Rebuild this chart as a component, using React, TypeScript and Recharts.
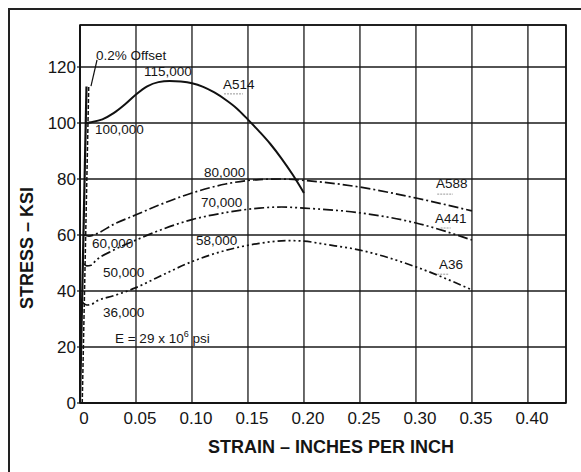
import React from "react";
import {
  LineChart,
  Line,
  XAxis,
  YAxis,
  CartesianGrid,
  ReferenceArea,
  ReferenceDot,
  ReferenceLine,
} from "recharts";

const xTicks = [0, 0.05, 0.1, 0.15, 0.2, 0.25, 0.3, 0.35, 0.4];
const yTicks = [0, 20, 40, 60, 80, 100, 120];

const elastic = [
  { x: 0, y: 0 },
  { x: 0.0058, y: 113 },
];
const offsetLine = [
  { x: 0.002, y: 0 },
  { x: 0.0078, y: 113 },
];

const a514 = [
  { x: 0.0052, y: 100 },
  { x: 0.01, y: 100.3 },
  { x: 0.02, y: 101.3 },
  { x: 0.03, y: 103.5 },
  { x: 0.04, y: 106.6 },
  { x: 0.05, y: 110.2 },
  { x: 0.06, y: 113.1 },
  { x: 0.07, y: 114.6 },
  { x: 0.08, y: 115 },
  { x: 0.09, y: 114.8 },
  { x: 0.1, y: 114.2 },
  { x: 0.11, y: 112.9 },
  { x: 0.12, y: 110.9 },
  { x: 0.13, y: 108.3 },
  { x: 0.14, y: 105.2 },
  { x: 0.15, y: 101.2 },
  { x: 0.16, y: 97 },
  { x: 0.17, y: 92.5 },
  { x: 0.18, y: 87.3 },
  { x: 0.19, y: 81.5 },
  { x: 0.2, y: 75 },
];

const a588 = [
  { x: 0.0031, y: 60 },
  { x: 0.008, y: 59.6 },
  { x: 0.015, y: 60.5 },
  { x: 0.03, y: 63.8 },
  { x: 0.05, y: 67.2 },
  { x: 0.07, y: 70.6 },
  { x: 0.1, y: 75 },
  { x: 0.13, y: 78.2 },
  { x: 0.16, y: 79.8 },
  { x: 0.18, y: 80 },
  { x: 0.2, y: 79.5 },
  { x: 0.25, y: 77.1 },
  { x: 0.3, y: 73.2 },
  { x: 0.35, y: 68.6 },
];

const a441 = [
  { x: 0.0026, y: 50 },
  { x: 0.006, y: 49 },
  { x: 0.01, y: 49.2 },
  { x: 0.014, y: 50.8 },
  { x: 0.03, y: 54.6 },
  { x: 0.05, y: 58.2 },
  { x: 0.07, y: 61.5 },
  { x: 0.1, y: 65.5 },
  { x: 0.13, y: 68 },
  { x: 0.16, y: 69.6 },
  { x: 0.18, y: 70 },
  { x: 0.2, y: 69.6 },
  { x: 0.25, y: 67.9 },
  { x: 0.3, y: 64.3 },
  { x: 0.35, y: 58.2 },
];

const a36 = [
  { x: 0.0019, y: 36 },
  { x: 0.006, y: 35 },
  { x: 0.01, y: 35.2 },
  { x: 0.015, y: 36.4 },
  { x: 0.03, y: 38.3 },
  { x: 0.05, y: 41.2 },
  { x: 0.07, y: 45 },
  { x: 0.1, y: 50.5 },
  { x: 0.13, y: 54.5 },
  { x: 0.16, y: 57 },
  { x: 0.185, y: 58 },
  { x: 0.2, y: 57.8 },
  { x: 0.22, y: 56.6 },
  { x: 0.25, y: 54.6 },
  { x: 0.3, y: 48.6 },
  { x: 0.35, y: 40.4 },
];

const notes = [
  { x: 0.0143, y: 124.3, text: "0.2% Offset" },
  { x: 0.0571, y: 118.6, text: "115,000" },
  { x: 0.0134, y: 97.9, text: "100,000" },
  { x: 0.1277, y: 113.9, text: "A514" },
  { x: 0.1107, y: 82.5, text: "80,000" },
  { x: 0.108, y: 71.8, text: "70,000" },
  { x: 0.1036, y: 58.2, text: "58,000" },
  { x: 0.0107, y: 57.1, text: "60,000" },
  { x: 0.0205, y: 46.8, text: "50,000" },
  { x: 0.0205, y: 32.5, text: "36,000" },
  { x: 0.318, y: 78.6, text: "A588" },
  { x: 0.317, y: 66.1, text: "A441" },
  { x: 0.3205, y: 49.6, text: "A36" },
];

const underlines = [
  { x1: 0.1286, x2: 0.1455, y: 110.4 },
  { x1: 0.319, x2: 0.333, y: 74.6 },
  { x1: 0.322, x2: 0.331, y: 62.5 },
  { x1: 0.319, x2: 0.329, y: 46 },
];

const FONT = "'Liberation Sans', Arial, Helvetica, sans-serif";
const INK = "#151515";

const noteShape = (text: string) => (p: any) => (
  <text
    x={p.cx}
    y={p.cy}
    dy="0.35em"
    fontSize={13.5}
    fontFamily={FONT}
    fill={INK}
  >
    {text}
  </text>
);

const eShape = (p: any) => (
  <text x={p.cx} y={p.cy} dy="0.35em" fontSize={13.5} fontFamily={FONT} fill={INK}>
    E = 29 x 10
    <tspan fontSize={9} dy="-0.6em">6</tspan>
    <tspan dy="0.45em"> psi</tspan>
  </text>
);

export default function App() {
  return (
    <div
      style={{
        position: "fixed",
        left: 0,
        top: 0,
        width: 581,
        height: 472,
        overflow: "hidden",
        background: "#fff",
      }}
    >
      <div
        style={{
          position: "absolute",
          left: 8,
          top: 8,
          width: 700,
          height: 600,
          borderLeft: "2px solid #222",
          borderTop: "2px solid #222",
          boxSizing: "border-box",
        }}
      />
      <div style={{ position: "absolute", left: 0, top: 0 }}>
        <LineChart
          width={581}
          height={472}
          margin={{ top: 25, right: 15, left: 0, bottom: 0 }}
        >
          <CartesianGrid stroke="#1a1a1a" strokeWidth={1.3} />
          <XAxis
            type="number"
            dataKey="x"
            domain={[0, 0.434]}
            ticks={xTicks}
            allowDataOverflow
            height={69}
            tickLine={false}
            tickSize={0}
            tickMargin={9}
            axisLine={{ stroke: "#111", strokeWidth: 1.6 }}
            tick={{ fontSize: 17, fill: INK, fontFamily: FONT, dx: 4 }}
            tickFormatter={(v: number) => (v === 0 ? "0" : v.toFixed(2))}
          />
          <YAxis
            type="number"
            dataKey="y"
            domain={[0, 135]}
            ticks={yTicks}
            allowDataOverflow
            width={80}
            tickSize={3}
            tickMargin={1}
            tickLine={{ stroke: "#111", strokeWidth: 1.2 }}
            axisLine={{ stroke: "#111", strokeWidth: 1.6 }}
            tick={{ fontSize: 17, fill: INK, fontFamily: FONT }}
          />
          <ReferenceArea
            x1={0}
            x2={0.434}
            y1={0}
            y2={135}
            fill="none"
            stroke="#111"
            strokeWidth={1.6}
            ifOverflow="visible"
          />
          <Line
            data={elastic}
            dataKey="y"
            type="linear"
            stroke="#111"
            strokeWidth={2.2}
            dot={false}
            isAnimationActive={false}
          />
          <Line
            data={offsetLine}
            dataKey="y"
            type="linear"
            stroke="#111"
            strokeWidth={1.5}
            strokeDasharray="4 2"
            dot={false}
            isAnimationActive={false}
          />
          <Line
            data={a514}
            dataKey="y"
            type="monotone"
            stroke="#111"
            strokeWidth={2}
            dot={false}
            isAnimationActive={false}
          />
          <Line
            data={a588}
            dataKey="y"
            type="monotone"
            stroke="#111"
            strokeWidth={1.7}
            strokeDasharray="10 3 2 3"
            dot={false}
            isAnimationActive={false}
          />
          <Line
            data={a441}
            dataKey="y"
            type="monotone"
            stroke="#111"
            strokeWidth={1.7}
            strokeDasharray="10 3 2 3 2 3"
            dot={false}
            isAnimationActive={false}
          />
          <Line
            data={a36}
            dataKey="y"
            type="monotone"
            stroke="#111"
            strokeWidth={1.7}
            strokeDasharray="8 3 2 3 2 3 2 3"
            dot={false}
            isAnimationActive={false}
          />
          <ReferenceLine
            segment={[
              { x: 0.0152, y: 122.5 },
              { x: 0.0098, y: 113.2 },
            ]}
            stroke="#111"
            strokeWidth={1.2}
            ifOverflow="visible"
          />
          {underlines.map((u, i) => (
            <ReferenceLine
              key={"u" + i}
              segment={[
                { x: u.x1, y: u.y },
                { x: u.x2, y: u.y },
              ]}
              stroke="#999"
              strokeWidth={1}
              strokeDasharray="2 1"
              ifOverflow="visible"
            />
          ))}
          {notes.map((n) => (
            <ReferenceDot
              key={n.text}
              x={n.x}
              y={n.y}
              r={0}
              ifOverflow="visible"
              shape={noteShape(n.text)}
            />
          ))}
          <ReferenceDot
            x={0.03125}
            y={23.2}
            r={0}
            ifOverflow="visible"
            shape={eShape}
          />
        </LineChart>
      </div>
      <svg
        width={581}
        height={472}
        style={{ position: "absolute", left: 0, top: 0, pointerEvents: "none" }}
      >
        <text
          x={331}
          y={447}
          dy="0.35em"
          textAnchor="middle"
          fontSize={18}
          fontWeight="bold"
          fontFamily={FONT}
          fill={INK}
        >
          STRAIN – INCHES PER INCH
        </text>
        <text
          transform="translate(27,248) rotate(-90)"
          dy="0.35em"
          textAnchor="middle"
          fontSize={18}
          fontWeight="bold"
          fontFamily={FONT}
          fill={INK}
        >
          STRESS – KSI
        </text>
      </svg>
    </div>
  );
}
